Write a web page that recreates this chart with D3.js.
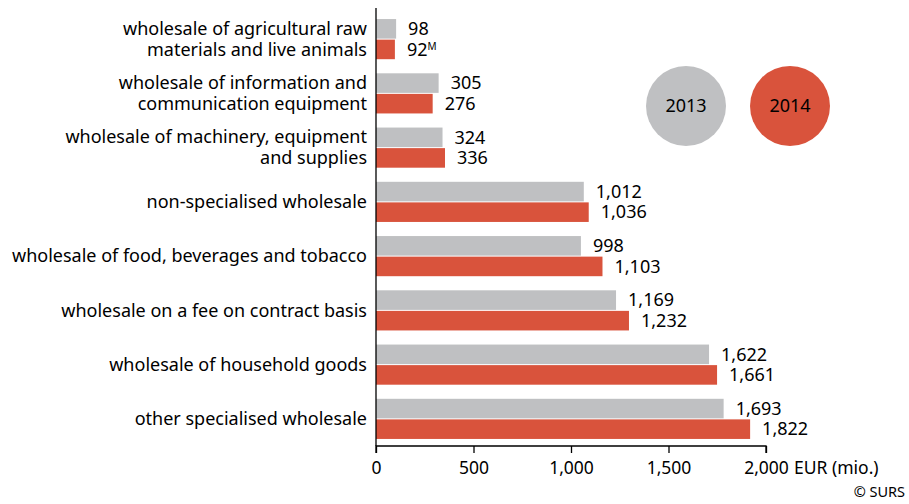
<!DOCTYPE html>
<html>
<head>
<meta charset="utf-8">
<script src="https://cdn.jsdelivr.net/npm/d3@7"></script>
<style>
  body { margin: 0; background: #fff; }
  text { font-family: "Noto Sans", sans-serif; fill: #000; }
</style>
</head>
<body>
<svg id="chart" width="909" height="504"></svg>
<script>
// categories (top to bottom), each label split in lines
var categories = [
    ["wholesale of agricultural raw", "materials and live animals"],
    ["wholesale of information and", "communication equipment"],
    ["wholesale of machinery, equipment", "and supplies"],
    ["non-specialised wholesale"],
    ["wholesale of food, beverages and tobacco"],
    ["wholesale on a fee on contract basis"],
    ["wholesale of household goods"],
    ["other specialised wholesale"]
];
var values2013 = [98, 305, 324, 1012, 998, 1169, 1622, 1693];
var values2014 = [92, 276, 336, 1036, 1103, 1232, 1661, 1822];
var flags2014 = ["M", "", "", "", "", "", "", ""];
var years = ["2013", "2014"];
var xTicks = [0, 500, 1000, 1500, 2000];

var colGrey = "#bfc0c2";
var colRed = "#d9533c";

var margin = { left: 376, top: 12, right: 143, bottom: 58 };
var svg = d3.select("#chart");
var W = 909, H = 504;
var plotW = W - margin.left - margin.right; // 390
var plotH = 446 - margin.top;

// axis scale and bar scale (bars in the original run slightly longer than the axis)
var x = d3.scaleLinear().domain([0, 2000]).range([0, plotW]);
var xBar = d3.scaleLinear().domain([0, 2000]).range([0, plotW * 1.053]);
var y = d3.scaleBand().domain(d3.range(categories.length)).range([0, plotH]).paddingInner(0.26).paddingOuter(0.13);

var g = svg.append("g").attr("transform", "translate(" + margin.left + "," + margin.top + ")");

var fmt = d3.format(",");
var barH = y.bandwidth() / 2 - 0.5;
var fs = "18px";

// bars
var groups = g.selectAll(".grp").data(categories).enter().append("g")
    .attr("transform", function(d, i){ return "translate(0," + y(i) + ")"; });

groups.append("rect").attr("x", 0).attr("y", 0)
    .attr("width", function(d, i){ return xBar(values2013[i]); })
    .attr("height", barH).attr("fill", colGrey);
groups.append("rect").attr("x", 0).attr("y", barH + 1)
    .attr("width", function(d, i){ return xBar(values2014[i]); })
    .attr("height", barH).attr("fill", colRed);

// value labels
groups.append("text")
    .attr("x", function(d, i){ return xBar(values2013[i]) + 12; })
    .attr("y", barH / 2).attr("dy", "0.35em")
    .style("font-size", fs)
    .text(function(d, i){ return fmt(values2013[i]); });
var lab14 = groups.append("text")
    .attr("x", function(d, i){ return xBar(values2014[i]) + 12; })
    .attr("y", barH + 1 + barH / 2).attr("dy", "0.35em")
    .style("font-size", fs);
lab14.append("tspan").text(function(d, i){ return fmt(values2014[i]); });
lab14.append("tspan").attr("dy", "-0.55em").style("font-size", "10px")
    .text(function(d, i){ return flags2014[i]; });

// category labels, one text per line
groups.each(function(lines, i){
    var grp = d3.select(this);
    var lh = 21;
    var y0 = y.bandwidth() / 2 - (lines.length - 1) * lh / 2;
    lines.forEach(function(s, k){
        grp.append("text")
            .attr("text-anchor", "end")
            .attr("x", -9).attr("y", y0 + k * lh).attr("dy", "0.35em")
            .style("font-size", fs)
            .text(s);
    });
});

// axes
var xAxis = g.append("g").attr("transform", "translate(0," + plotH + ")")
    .call(d3.axisBottom(x).tickValues(xTicks).tickFormat(fmt).tickSize(7).tickPadding(9));
xAxis.select(".domain").attr("stroke", "#000").attr("stroke-width", 1.3).attr("d", "M0,7V0H" + plotW + "V7");
xAxis.selectAll(".tick line").attr("stroke", "#000").attr("stroke-width", 1.3);
xAxis.selectAll(".tick text").style("font-size", "17.5px").style("font-family", "'Noto Sans', sans-serif").attr("fill", "#000");

g.append("line").attr("x1", 0).attr("x2", 0).attr("y1", -4).attr("y2", plotH)
    .attr("stroke", "#000").attr("stroke-width", 1.3);

svg.append("text").attr("x", 794).attr("y", 468).attr("dy", "0.35em")
    .style("font-size", "17.5px").text("EUR (mio.)");
svg.append("text").attr("x", 905).attr("y", 497).attr("text-anchor", "end")
    .style("font-size", "14.5px").text("© SURS");

// legend circles
var legend = svg.selectAll(".leg").data(years).enter().append("g")
    .attr("transform", function(d, i){ return "translate(" + (686 + i * 104) + ",106)"; });
legend.append("circle").attr("r", 40).attr("fill", function(d, i){ return i ? colRed : colGrey; });
legend.append("text").attr("text-anchor", "middle").attr("dy", "0.35em")
    .style("font-size", fs).text(function(d){ return d; });
</script>
</body>
</html>
